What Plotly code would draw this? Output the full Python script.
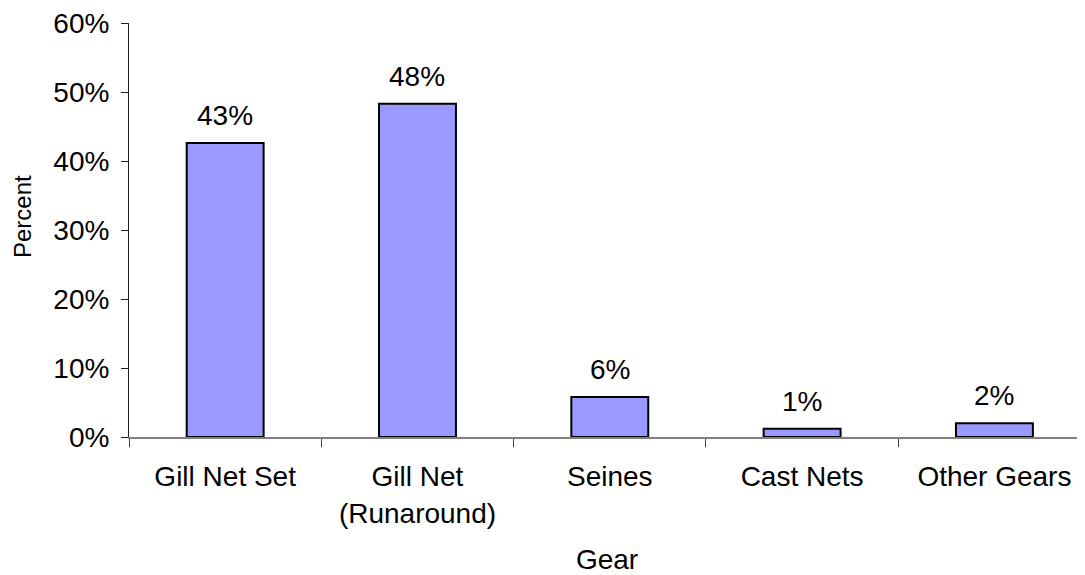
import plotly.graph_objects as go

categories = ["Gill Net Set", "Gill Net<br>(Runaround)", "Seines", "Cast Nets", "Other Gears"]
values = [42.6, 48.3, 5.8, 1.2, 2.0]
labels = ["43%", "48%", "6%", "1%", "2%"]
y_ticks = [0, 10, 20, 30, 40, 50, 60]
y_tick_text = ["0%", "10%", "20%", "30%", "40%", "50%", "60%"]

FONT = "Liberation Sans, Arial, sans-serif"
FS = 28

# page body has an 8px default margin, so the figure is sized to fit inside it
W, H = 1077, 567
ML, MR, MT, MB = 121, 0, 15, 138

fig = go.Figure()
fig.add_trace(go.Bar(
    x=categories, y=values,
    marker=dict(color="#9999FF", line=dict(color="black", width=2)),
    width=0.4,
    hoverinfo="skip",
))

for c, v, t in zip(categories, values, labels):
    fig.add_annotation(x=c, y=v, text=t, showarrow=False, yanchor="bottom",
                       yshift=10, font=dict(family=FONT, size=FS, color="black"))

plot_w = W - ML - MR
plot_h = H - MT - MB
# "Percent" centre at window (22, 217) -> figure (14, 209)
fig.add_annotation(x=(14 - ML) / plot_w, y=(H - MB - 209) / plot_h,
                   xref="paper", yref="paper", text="Percent",
                   xanchor="center", yanchor="middle",
                   showarrow=False, textangle=-90,
                   font=dict(family=FONT, size=24, color="black"))

fig.update_layout(
    template="none",
    width=W, height=H,
    margin=dict(l=ML, r=MR, t=MT, b=MB, pad=0),
    paper_bgcolor="white", plot_bgcolor="white",
    showlegend=False,
    font=dict(family=FONT, size=FS, color="black"),
)

fig.update_xaxes(
    type="category",
    range=[-0.5, 4.471],
    automargin=False,
    showline=True, linecolor="#808080", linewidth=1.5,
    ticks="outside", tickson="boundaries", ticklen=8, tickcolor="#404040", tickwidth=1,
    showgrid=False, zeroline=False,
    tickfont=dict(family=FONT, size=FS, color="black"),
    ticklabelstandoff=14,
    title=dict(text="Gear", font=dict(family=FONT, size=FS, color="black"), standoff=27),
)
fig.update_yaxes(
    range=[0, 60],
    automargin=False,
    tickvals=y_ticks, ticktext=y_tick_text,
    showline=True, linecolor="#202020", linewidth=1,
    ticks="outside", ticklen=7, tickcolor="#202020",
    showgrid=False, zeroline=False,
    tickfont=dict(family=FONT, size=FS, color="black"),
    ticklabelstandoff=6,
    ticklabeloverflow="allow",
)

fig.write_html("out.html")
